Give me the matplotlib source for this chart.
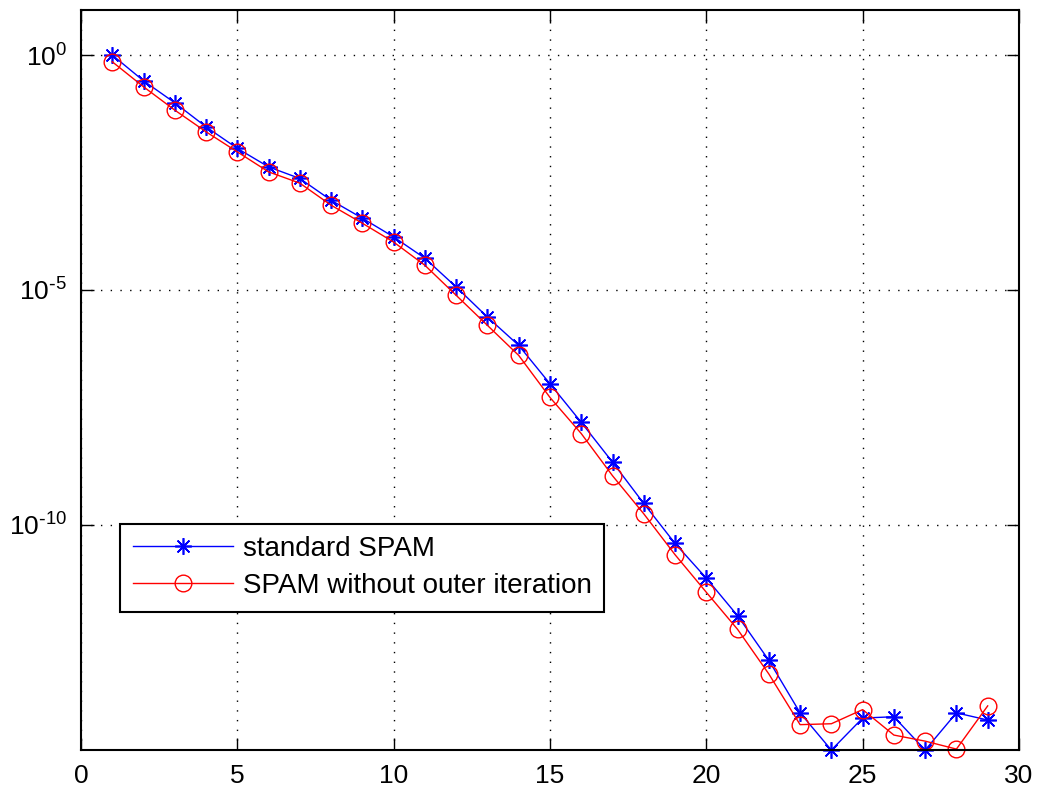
import matplotlib
matplotlib.use("Agg")
import matplotlib.pyplot as plt
from matplotlib.ticker import NullLocator

# iteration index and residuals
iters = list(range(1, 30))
standard_spam = [1.0, 0.283, 0.0962, 0.0296, 1.03e-2, 4.15e-3, 2.35e-3, 8.09e-4, 3.35e-4, 1.34e-4,
                 4.70e-5, 1.15e-5, 2.63e-6, 6.56e-7, 1.0e-7, 1.51e-8, 2.14e-9, 2.82e-10, 3.98e-11,
                 7.24e-12, 1.15e-12, 1.29e-13, 9.8e-15, 1.58e-15, 7.6e-15, 8.1e-15, 1.58e-15,
                 9.8e-15, 6.9e-15]
spam_no_outer = [0.719, 0.211, 0.0671, 0.0232, 8.67e-3, 3.25e-3, 1.87e-3, 6.34e-4, 2.62e-4, 1.04e-4,
                 3.33e-5, 7.64e-6, 1.75e-6, 4.01e-7, 5.11e-8, 8.7e-9, 1.10e-9, 1.70e-10, 2.29e-11,
                 3.63e-12, 5.89e-13, 6.6e-14, 5.5e-15, 5.75e-15, 1.15e-14, 3.3e-15, 2.45e-15,
                 1.66e-15, 1.38e-14]
labels = ["standard SPAM", "SPAM without outer iteration"]
x_ticks = [0, 5, 10, 15, 20, 25, 30]
y_ticks = [1e0, 1e-5, 1e-10]
y_ticklabels = [r'$\mathdefault{10^{0}}$', r'$\mathdefault{10^{\text{-}5}}$',
                r'$\mathdefault{10^{\text{-}10}}$']

plt.rcParams['font.family'] = ['Liberation Sans', 'DejaVu Sans']

fig = plt.figure(figsize=(10.37, 7.91), dpi=100)
ax = fig.add_axes([0.0781, 0.0518, 0.9045, 0.9356])

ax.semilogy(iters, standard_spam, color='blue', lw=1.0, marker=(8, 2, 0), ms=12, mew=1.2,
            label=labels[0], clip_on=False)
ax.semilogy(iters, spam_no_outer, color='red', lw=1.0, marker='o', ms=12, mew=1.0,
            mfc='none', label=labels[1], clip_on=False)

ax.set_xlim(0, 30)
ax.set_ylim(10 ** -14.8, 10 ** 0.96)
ax.set_xticks(x_ticks)
ax.set_yticks(y_ticks)
ax.set_yticklabels(y_ticklabels)
ax.yaxis.set_minor_locator(NullLocator())
ax.tick_params(direction='in', length=9, width=1, top=True, right=True, labelsize=19, pad=10)
ax.grid(True, which='major', color='black', linestyle=(0, (1, 6)), linewidth=1.0)
for sp in ax.spines.values():
    sp.set_linewidth(1.5)

leg = ax.legend(loc='upper left', bbox_to_anchor=(0.042, 0.306), fontsize=20, handlelength=3.6,
                handletextpad=0.35, fancybox=False, framealpha=1, edgecolor='black',
                borderpad=0.45, labelspacing=0.4, borderaxespad=0)
leg.get_frame().set_linewidth(1.5)

fig.savefig("out.png", dpi=100)
